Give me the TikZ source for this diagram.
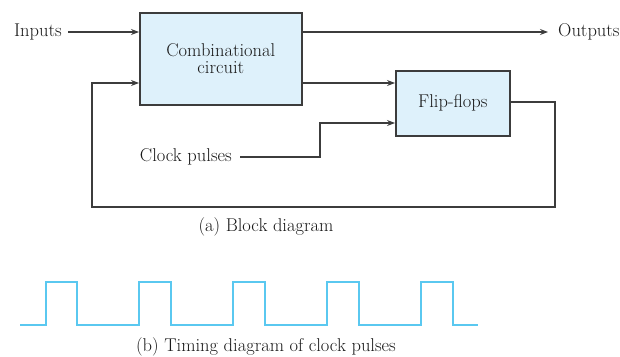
\documentclass[tikz,border=0pt]{standalone}
\usetikzlibrary{arrows.meta}
\definecolor{boxfill}{RGB}{222,241,251}
\definecolor{wire}{RGB}{60,60,60}
\definecolor{pulse}{RGB}{90,200,240}
\definecolor{txt}{RGB}{25,25,25}
\tikzset{
  blk/.style={draw=wire, line width=1.6pt, fill=boxfill, inner sep=0pt, align=center, text=txt},
  lbl/.style={text=txt, inner sep=0pt},
  wr/.style={draw=wire, line width=1.2pt},
  arr/.style={wr, -{Stealth[length=8pt,width=6pt]}},
}
\begin{document}
\begin{tikzpicture}[x=1pt,y=-1pt, font=\fontsize{18.5}{20}\selectfont]
\useasboundingbox (0,0) rectangle (620,356);
\node[blk, minimum width=162pt, minimum height=92pt, anchor=north west] (cc) at (139,12) {Combinational\\[-3pt]circuit};
\node[blk, minimum width=114pt, minimum height=65pt, anchor=north west] (ff) at (395,70) {Flip-flops};
\node[lbl, anchor=east] (in) at (62,32) {Inputs};
\node[lbl, anchor=west] (out) at (558,32) {Outputs};
\node[lbl, anchor=east] (clk) at (232,157) {Clock pulses};
\node[lbl] (capa) at (266,227) {(a) Block diagram};
\node[lbl] (capb) at (266,347) {(b) Timing diagram of clock pulses};
\coordinate (fbl) at (92,207);
\coordinate (fbr) at (555,207);
\draw[arr] (in.east) ++(6,0) -- (cc.west |- 0,32);
\draw[arr] (cc.east |- 0,32) -- ([xshift=-10pt]out.west);
\draw[arr] (cc.east |- 0,83) -- (ff.west |- 0,83);
\draw[arr] (clk.east) ++(8,0) -- (320,157) -- (320,123) -- (ff.west |- 0,123);
\draw[arr] (ff.east |- 0,102) -- (fbr |- 0,102) -- (fbr) -- (fbl) -- (fbl |- 0,83) -- (cc.west |- 0,83);
\draw[pulse, line width=1.6pt] (20,325)
  -- (46,325) -- (46,282) -- (77,282) -- (77,325)
  -- (139,325) -- (139,282) -- (171,282) -- (171,325)
  -- (233,325) -- (233,282) -- (265,282) -- (265,325)
  -- (327,325) -- (327,282) -- (359,282) -- (359,325)
  -- (421,325) -- (421,282) -- (453,282) -- (453,325)
  -- (478,325);
\end{tikzpicture}
\end{document}
